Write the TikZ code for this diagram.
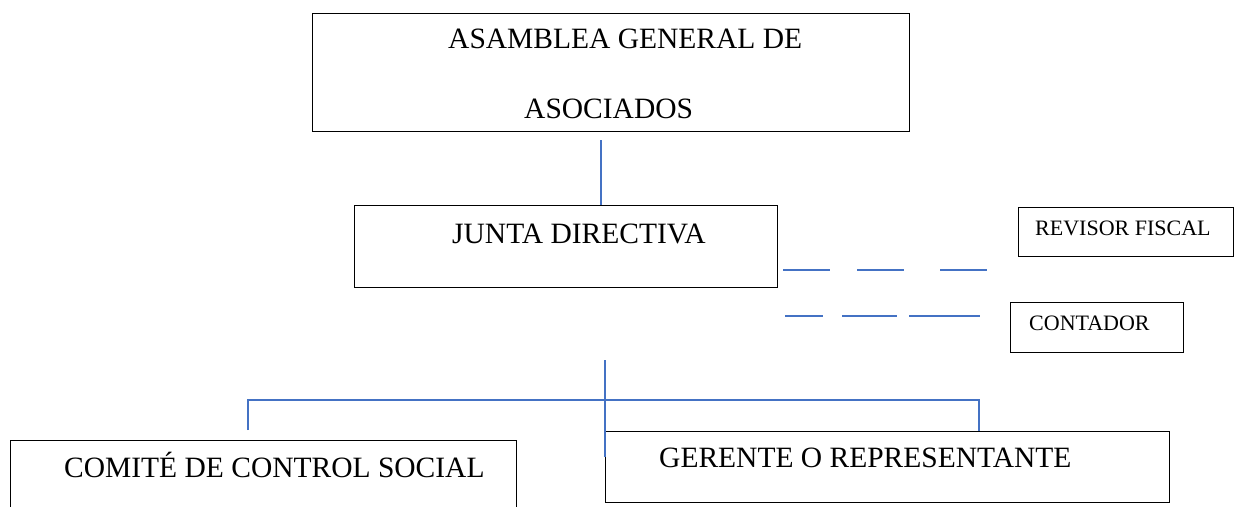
\documentclass[tikz,border=0pt]{standalone}
\usepackage{fontspec}
\setmainfont{Liberation Serif}
\tikzset{
  box/.style={draw=black, line width=1.3pt, inner sep=0pt, anchor=north west},
  lbl/.style={inner sep=0pt, anchor=base west, font=\fontsize{29.5}{30}\selectfont},
  slbl/.style={inner sep=0pt, anchor=base west, font=\fontsize{22}{24}\selectfont},
  conn/.style={draw={rgb,255:red,68;green,114;blue,196}, line width=1.5pt},
  dconn/.style={conn, dash pattern=on 47pt off 27pt}
}
\begin{document}
\begin{tikzpicture}[x=1pt,y=-1pt]
\useasboundingbox (0,0) rectangle (1234,506);
% boxes
\node[box, minimum width=597pt, minimum height=118pt] (asam) at (312,13) {};
\node[box, minimum width=423pt, minimum height=82pt] (junta) at (354,205) {};
\node[box, minimum width=215pt, minimum height=49pt] (rev) at (1018,207) {};
\node[box, minimum width=173pt, minimum height=50pt] (cont) at (1010,302) {};
\node[box, minimum width=506pt, minimum height=80pt] (comite) at (10,440) {};
\node[box, minimum width=564pt, minimum height=71pt] (ger) at (605,431) {};
% texts
\node[lbl] (t1) at (448,48) {ASAMBLEA GENERAL DE};
\node[lbl] (t2) at (524,118) {ASOCIADOS};
\node[lbl] (t3) at (452,243) {JUNTA DIRECTIVA};
\node[slbl] (t4) at (1035,235) {REVISOR FISCAL};
\node[slbl] (t5) at (1029,330) {CONTADOR};
\node[lbl] (t6) at (64,477) {COMITÉ DE CONTROL SOCIAL};
\node[lbl] (t7) at (659,467) {GERENTE O REPRESENTANTE};
% connector coordinates
\coordinate (a1) at (601,140);
\coordinate (a2) at (601,205);
\coordinate (v1) at (605,360);
\coordinate (v2) at (605,457);
\coordinate (hl) at (248,400);
\coordinate (hr) at (979,400);
\coordinate (dl) at (248,430);
\coordinate (dr) at (979,431);
% solid connectors
\draw[conn] (a1) -- (a2);
\draw[conn] (v1) -- (v2);
\draw[conn] (dl) -- (hl) -- (hr) -- (dr);
% dashed connectors
\coordinate (r1) at (783,270);
\coordinate (r2) at (987,270);
\coordinate (c1) at (785,316);
\coordinate (c2) at (980,316);
\draw[conn] (r1) -- ++(47,0) (857,270) -- ++(47,0) (940,270) -- (r2);
\draw[conn] (c1) -- ++(38,0) (842,316) -- ++(55,0) (909,316) -- (c2);
\end{tikzpicture}
\end{document}
